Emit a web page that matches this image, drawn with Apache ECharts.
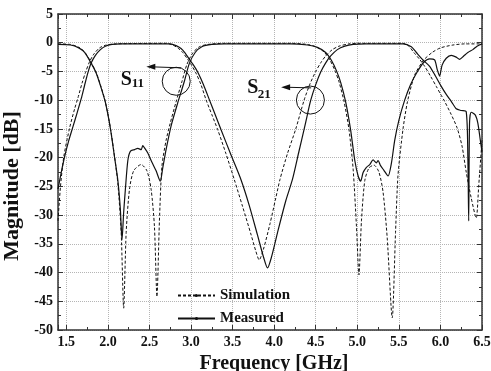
<!DOCTYPE html>
<html>
<head>
<meta charset="utf-8">
<script src="https://cdn.jsdelivr.net/npm/echarts@6.0.0/dist/echarts.min.js"></script>
<style>
  html, body { margin: 0; padding: 0; background: #fff; }
  #chart { width: 491px; height: 371px; }
</style>
</head>
<body>
<div id="chart"></div>
<script>
const FONT = '"Liberation Serif", "Times New Roman", serif';
const INK = '#111';
const FRAME = '#333';

// [GHz, dB]
const simS11 = [
  [1.40, -0.2], [1.55, -0.3], [1.65, -0.8], [1.72, -1.6], [1.80, -3.5], [1.86, -5.2],
  [1.92, -7.8], [1.97, -10.3], [2.03, -14.8], [2.08, -19.8], [2.12, -24.5], [2.16, -33],
  [2.19, -46.2], [2.22, -33], [2.26, -25.5], [2.31, -22.3], [2.40, -21.2], [2.47, -22.3],
  [2.52, -25.5], [2.56, -32], [2.59, -44.2], [2.62, -31], [2.65, -21.5], [2.70, -17],
  [2.75, -14], [2.82, -10.3], [2.89, -6.8], [2.95, -3.8], [3.02, -1.8], [3.10, -0.7],
  [3.20, -0.3], [3.40, -0.1], [4.20, -0.1], [4.40, -0.3], [4.50, -0.7], [4.60, -1.6],
  [4.67, -3.0], [4.73, -4.8], [4.78, -6.8], [4.84, -10.2], [4.90, -15.1], [4.95, -22],
  [4.99, -32], [5.02, -40.4], [5.05, -31], [5.09, -24], [5.14, -21.8], [5.20, -21.3],
  [5.26, -22.5], [5.31, -26], [5.36, -34], [5.42, -47.9], [5.46, -33], [5.49, -23],
  [5.55, -15], [5.60, -10.5], [5.65, -7.5], [5.70, -5.3], [5.80, -3.0], [5.90, -1.7],
  [6.00, -0.9], [6.15, -0.4], [6.30, -0.2], [6.50, -0.2]
];
const measS11 = [
  [1.40, -0.3], [1.55, -0.4], [1.65, -0.9], [1.72, -1.7], [1.80, -3.6], [1.86, -5.3],
  [1.92, -7.9], [1.97, -10.4], [2.03, -14.9], [2.08, -19.9], [2.12, -24], [2.15, -29],
  [2.17, -34.3], [2.19, -29.5], [2.21, -25.6], [2.24, -20.5], [2.27, -18.9], [2.32, -18.6],
  [2.36, -18.4], [2.40, -18.6], [2.42, -17.9], [2.44, -18.3], [2.48, -19.2], [2.53, -20.8],
  [2.58, -22.3], [2.63, -24.1], [2.66, -21.8], [2.70, -18.6], [2.76, -14.5], [2.85, -10],
  [2.92, -6.7], [2.98, -3.6], [3.05, -1.7], [3.13, -0.7], [3.25, -0.3], [3.40, -0.2],
  [4.20, -0.2], [4.40, -0.4], [4.52, -0.8], [4.62, -1.7], [4.69, -3.1], [4.75, -4.9],
  [4.80, -6.9], [4.86, -10.3], [4.92, -15.2], [4.97, -20.5], [5.01, -23.2], [5.04, -24.1],
  [5.07, -22.6], [5.11, -21.7], [5.15, -21.2], [5.19, -20.4], [5.23, -20.9], [5.25, -20.5],
  [5.28, -21.4], [5.32, -22.2], [5.37, -23.2], [5.41, -21], [5.45, -17], [5.50, -13.5],
  [5.57, -10], [5.64, -7.3], [5.72, -5.1], [5.80, -3.4], [5.87, -2.8], [5.93, -3.0],
  [5.96, -4.6], [5.99, -5.8], [6.02, -3.9], [6.07, -2.7], [6.13, -2.2], [6.19, -2.5],
  [6.23, -2.9], [6.28, -2.3], [6.33, -1.7], [6.39, -1.2], [6.44, -0.6], [6.50, -0.2]
];
const simS21 = [
  [1.40, -31], [1.43, -25], [1.47, -19.8], [1.54, -14.8], [1.60, -11.5], [1.64, -9.6],
  [1.69, -7], [1.73, -5.2], [1.78, -3.3], [1.83, -2], [1.90, -0.9], [1.98, -0.4],
  [2.10, -0.2], [2.70, -0.1], [2.78, -0.4], [2.84, -0.9], [2.90, -1.7], [2.96, -2.9],
  [3.01, -4], [3.06, -5.3], [3.12, -7.3], [3.18, -9.9], [3.25, -12.5], [3.32, -15.1],
  [3.42, -19.3], [3.52, -23.8], [3.62, -28.5], [3.72, -33.3], [3.78, -36.3], [3.82, -37.8],
  [3.87, -36], [3.95, -31.5], [4.02, -27], [4.07, -23.8], [4.16, -19.3], [4.26, -15],
  [4.36, -10], [4.43, -7.2], [4.50, -5.0], [4.56, -3.5], [4.62, -2.3], [4.70, -1.2],
  [4.78, -0.6], [4.90, -0.2], [5.00, -0.1], [5.55, -0.1], [5.62, -0.6], [5.68, -1.7],
  [5.75, -2.9], [5.81, -4.1], [5.88, -5.8], [5.95, -7.6], [6.00, -8.9], [6.05, -10.2],
  [6.13, -12.5], [6.20, -14.8], [6.26, -18], [6.31, -22.5], [6.37, -27], [6.43, -30.5],
  [6.46, -25], [6.50, -17]
];
const measS21 = [
  [1.40, -25.5], [1.44, -22.5], [1.48, -19.8], [1.53, -17], [1.58, -14.6], [1.63, -12.2],
  [1.68, -9.7], [1.72, -7.4], [1.76, -5.2], [1.80, -3.5], [1.85, -2.2], [1.91, -1.2],
  [1.97, -0.6], [2.05, -0.3], [2.15, -0.2], [2.75, -0.2], [2.82, -0.5], [2.88, -1.0],
  [2.93, -1.8], [2.98, -2.9], [3.03, -3.9], [3.08, -5.1], [3.15, -7.3], [3.22, -9.9],
  [3.29, -12.5], [3.36, -15.1], [3.48, -19.5], [3.60, -23.8], [3.70, -28.3], [3.80, -33.5],
  [3.87, -37.2], [3.92, -39.2], [3.97, -37.2], [4.05, -32.5], [4.14, -27.5], [4.22, -23.8],
  [4.30, -18.8], [4.36, -15.1], [4.40, -12.5], [4.44, -10], [4.50, -7.3], [4.56, -5.1],
  [4.62, -3.5], [4.68, -2.3], [4.76, -1.2], [4.85, -0.6], [4.95, -0.3], [5.10, -0.2],
  [5.55, -0.2], [5.65, -0.7], [5.71, -1.7], [5.79, -3.0], [5.87, -4.1], [5.94, -5.8],
  [6.01, -7.6], [6.07, -9], [6.13, -10.2], [6.19, -11.5], [6.25, -11.8], [6.31, -12],
  [6.33, -20], [6.34, -31], [6.35, -14], [6.37, -12.1], [6.42, -12.6], [6.45, -14],
  [6.48, -17], [6.50, -19]
];

const legendNames = ['Simulation', 'Measured'];

// annotation anchors in data units: [GHz, dB]
const circles = [[2.822, -6.71], [4.436, -9.98]];
const arrows = [
  [[2.882, -4.37], [2.462, -4.20]],
  [[4.445, -7.86], [4.084, -7.75]]
];
const labels = [
  { main: 'S', sub: '11', at: [2.221, -6.53], subAt: [2.361, -7.20] },
  { main: 'S', sub: '21', at: [3.743, -7.86], subAt: [3.880, -8.97] }
];

const chart = echarts.init(document.getElementById('chart'), null, { renderer: 'canvas' });

function tickLabel(v) {
  const r = Math.round(v * 2) / 2;
  return Math.abs(r - v) < 1e-6 ? v.toFixed(1) : '';
}

const axisLine = { show: true, onZero: false, lineStyle: { color: FRAME, width: 1.5 } };
const tick = { show: true, inside: true, length: 5, lineStyle: { color: FRAME, width: 1 } };
const minor = { show: true, splitNumber: 2, length: 3, lineStyle: { color: FRAME, width: 1 } };
const labelFont = { fontFamily: FONT, fontWeight: 'bold', fontSize: 14, color: INK };
const dotted = { show: true, lineStyle: { type: 'dotted', color: '#b5b5b5', width: 1 } };

function curve(name, data, dashed) {
  return {
    name: name,
    type: 'line',
    data: data,
    symbol: 'none',
    smooth: 0.25,
    animation: false,
    lineStyle: {
      color: INK,
      width: dashed ? 1 : 1.2,
      type: dashed ? [3, 2] : 'solid'
    },
    itemStyle: { color: INK },
    z: 3
  };
}

const option = {
  backgroundColor: '#fff',
  animation: false,
  grid: { left: 58, right: 9, top: 14, bottom: 41, outerBoundsMode: 'none' },
  legend: {
    data: legendNames,
    orient: 'vertical',
    left: 177,
    top: 288,
    padding: 0,
    itemWidth: 37,
    itemHeight: 4,
    itemGap: 8,
    selectedMode: false,
    itemStyle: { color: INK },
    textStyle: { fontFamily: FONT, fontWeight: 'bold', fontSize: 15, color: INK }
  },
  xAxis: [
    {
      type: 'value',
      position: 'bottom',
      min: 1.4,
      max: 6.5,
      splitNumber: 10,
      minInterval: 0.5,
      maxInterval: 0.5,
      axisLine: axisLine,
      axisTick: tick,
      minorTick: minor,
      axisLabel: Object.assign({ margin: 5, formatter: tickLabel, showMinLabel: false }, labelFont),
      splitLine: dotted,
      name: 'Frequency [GHz]',
      nameLocation: 'middle',
      nameGap: 15,
      nameTextStyle: {
        fontFamily: FONT, fontWeight: 'bold', fontSize: 20, color: INK,
        padding: [0, 0, 0, 8]
      }
    },
    {
      type: 'value',
      position: 'top',
      min: 1.4,
      max: 6.5,
      splitNumber: 10,
      minInterval: 0.5,
      maxInterval: 0.5,
      axisLine: axisLine,
      axisTick: tick,
      minorTick: minor,
      axisLabel: { show: false },
      splitLine: { show: false }
    }
  ],
  yAxis: [
    {
      type: 'value',
      position: 'left',
      min: -50,
      max: 5,
      interval: 5,
      axisLine: axisLine,
      axisTick: tick,
      minorTick: minor,
      axisLabel: Object.assign({ margin: 5 }, labelFont),
      splitLine: dotted,
      name: 'Magnitude [dB]',
      nameLocation: 'middle',
      nameGap: 34,
      nameTextStyle: {
        fontFamily: FONT, fontWeight: 'bold', fontSize: 22, color: INK,
        padding: [0, 28, 0, 0]
      }
    },
    {
      type: 'value',
      position: 'right',
      min: -50,
      max: 5,
      interval: 5,
      axisLine: axisLine,
      axisTick: tick,
      minorTick: minor,
      axisLabel: { show: false },
      splitLine: { show: false }
    }
  ],
  series: [
    curve('Simulation', simS11, true),
    curve('Measured', measS11, false),
    curve('Simulation', simS21, true),
    curve('Measured', measS21, false)
  ]
};

chart.setOption(option);

// annotations: circles, arrows and S-parameter labels, placed through the axes
const px = p => chart.convertToPixel({ gridIndex: 0 }, p);
const graphic = [];
circles.forEach(c => {
  const p = px(c);
  graphic.push({
    type: 'circle',
    shape: { cx: p[0], cy: p[1], r: 14 },
    style: { fill: 'none', stroke: INK, lineWidth: 1 },
    z: 10
  });
});
arrows.forEach(a => {
  const s = px(a[0]);
  const e = px(a[1]);
  graphic.push({
    type: 'line',
    shape: { x1: s[0], y1: s[1], x2: e[0] + 6, y2: e[1] },
    style: { stroke: INK, lineWidth: 1 },
    z: 10
  });
  graphic.push({
    type: 'polygon',
    shape: { points: [[e[0], e[1]], [e[0] + 9, e[1] - 3], [e[0] + 9, e[1] + 3]] },
    style: { fill: INK },
    z: 10
  });
});
labels.forEach(l => {
  const p = px(l.at);
  const q = px(l.subAt);
  graphic.push({
    type: 'text',
    x: p[0], y: p[1],
    style: {
      text: l.main, fill: INK, align: 'center', verticalAlign: 'middle',
      font: 'bold 20px ' + FONT
    },
    z: 10
  });
  graphic.push({
    type: 'text',
    x: q[0], y: q[1],
    style: {
      text: l.sub, fill: INK, align: 'center', verticalAlign: 'middle',
      font: 'bold 13px ' + FONT
    },
    z: 10
  });
});
chart.setOption({ graphic: graphic });
</script>
</body>
</html>
